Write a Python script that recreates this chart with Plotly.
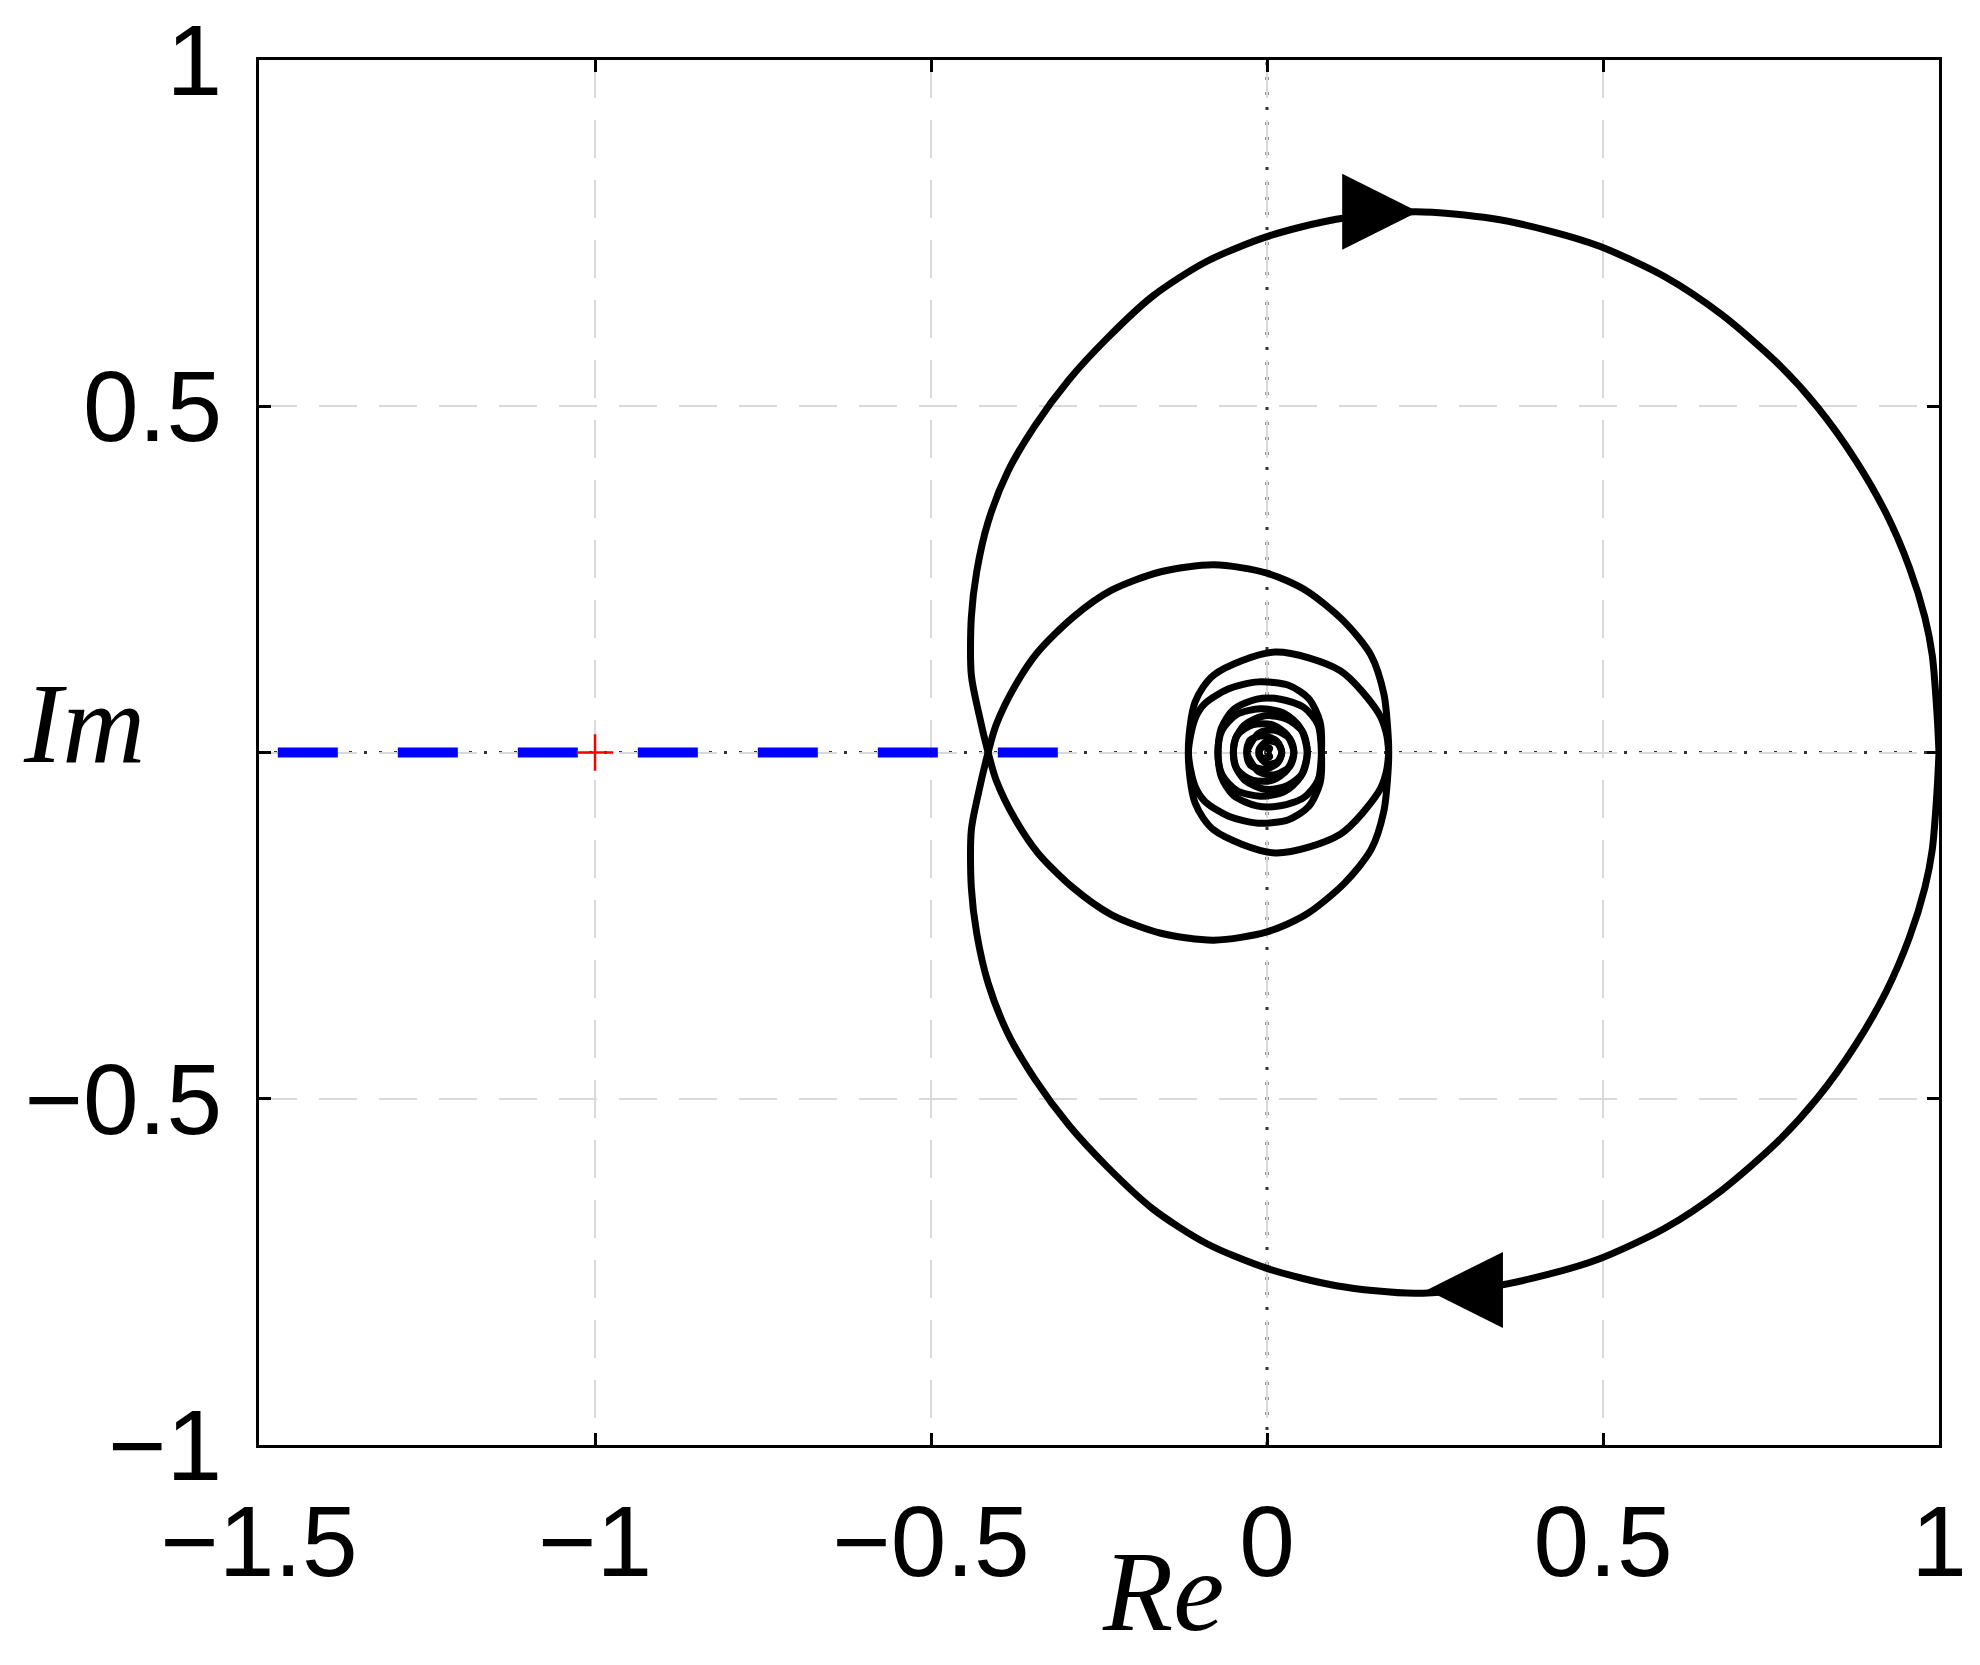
import plotly.graph_objects as go

# Nyquist locus, positive-frequency branch (Re, Im);
# the negative-frequency branch is its mirror image.
outer_re = [1.0, 0.997, 0.99, 0.979, 0.956, 0.922, 0.876, 0.819, 0.762, 0.677, 0.592, 0.495,
            0.421, 0.335, 0.22, 0.103, 0.0, -0.09, -0.17, -0.238, -0.295, -0.346, -0.386,
            -0.415, -0.432, -0.44, -0.44, -0.429, -0.415]
outer_im = [0.0, -0.057, -0.14, -0.195, -0.267, -0.344, -0.422, -0.499, -0.56, -0.632, -0.687, -0.731,
            -0.753, -0.771, -0.781, -0.77, -0.745, -0.709, -0.659, -0.598, -0.538, -0.471, -0.405,
            -0.333, -0.261, -0.195, -0.112, -0.057, 0.0]

middle_re = [-0.403, -0.375, -0.341, -0.289, -0.232, -0.158, -0.079, 0.0, 0.058, 0.115, 0.155,
             0.174, 0.18, 0.181,
             0.177, 0.166, 0.109, 0.012, -0.079, -0.107, -0.117]
middle_im = [0.04, 0.096, 0.145, 0.195, 0.234, 0.261, 0.271, 0.259, 0.234, 0.189, 0.14,
             0.084, 0.029, 0.0,
             -0.03, -0.057, -0.118, -0.145, -0.112, -0.073, 0.0]

inner_re = [-0.107, -0.092, -0.057, -0.013, 0.032, 0.062, 0.079, 0.081,
            0.076, 0.055, 0.02, -0.015, -0.05, -0.068, -0.073,
            -0.067, -0.045, -0.01, 0.025, 0.05, 0.06,
            0.053, 0.03, -0.003, -0.033, -0.047, -0.05,
            -0.044, -0.022, 0.008, 0.03, 0.04,
            0.034, 0.012, -0.012, -0.03,
            -0.025, -0.005, 0.015, 0.022,
            0.015, 0.0, -0.012, -0.008, 0.004, 0.0]
inner_im = [0.049, 0.071, 0.092, 0.102, 0.097, 0.078, 0.044, 0.0,
            -0.04, -0.065, -0.077, -0.077, -0.062, -0.035, 0.0,
            0.032, 0.055, 0.063, 0.057, 0.035, 0.0,
            -0.03, -0.048, -0.053, -0.04, -0.02, 0.0,
            0.025, 0.04, 0.04, 0.025, 0.0,
            -0.02, -0.032, -0.028, 0.0,
            0.018, 0.024, 0.016, 0.0,
            -0.014, -0.016, -0.004, 0.008, 0.006, 0.0]

# direction arrows on the locus (arrow tips)
arrow_re = [0.225, 0.238]
arrow_im = [0.781, -0.776]
arrow_symbols = ["arrow-right", "arrow-left"]

# blue dashed segment on the real axis and the critical point
segment_re = [-1.472, -0.302]
segment_im = [0.0, 0.0]
critical_re = [-1.0]
critical_im = [0.0]

pos_re = outer_re + middle_re + inner_re
pos_im = outer_im + middle_im + inner_im
neg_im = [-v for v in pos_im]

fig = go.Figure()

for ys in (pos_im, neg_im):
    fig.add_trace(go.Scatter(
        x=pos_re, y=ys, mode="lines",
        line=dict(color="black", width=7, shape="spline", smoothing=0.8),
        hoverinfo="skip"))

fig.add_trace(go.Scatter(
    x=segment_re, y=segment_im, mode="lines",
    line=dict(color="#0000ff", width=10, dash="60px,60px")))

fig.add_trace(go.Scatter(
    x=critical_re, y=critical_im, mode="markers",
    marker=dict(symbol="cross-thin", size=26, line=dict(color="red", width=2.5))))

fig.add_trace(go.Scatter(
    x=arrow_re, y=arrow_im, mode="markers",
    marker=dict(symbol=arrow_symbols, size=76, color="black", line=dict(width=0))))

# dotted real/imaginary axes
fig.add_hline(y=0, line=dict(color="#333333", width=3, dash="3px,12px"), layer="below")
fig.add_vline(x=0, line=dict(color="#333333", width=3, dash="3px,12px"), layer="below")

axis_style = dict(
    showline=True, linecolor="black", linewidth=3, mirror="ticks",
    ticks="inside", ticklen=12, tickwidth=2.5, tickcolor="black",
    showgrid=True, gridcolor="#d9d9d9", gridwidth=2, griddash="38px,22px",
    zeroline=False, automargin=False, ticklabeloverflow="allow",
    tickfont=dict(family="Liberation Sans, Arial", size=100, color="black"),
)

fig.update_xaxes(range=[-1.5, 1], tickvals=[-1.5, -1, -0.5, 0, 0.5, 1],
                 ticklabelstandoff=8, **axis_style)
fig.update_yaxes(range=[-1, 1], tickvals=[-1, -0.5, 0, 0.5, 1],
                 ticktext=["\u22121", "\u22120.5", "", "0.5", "1"],
                 ticklabelstandoff=14, **axis_style)

label_font = dict(family="Liberation Serif, Times New Roman", size=115, color="black")
fig.add_annotation(text="<i>Im</i>", xref="paper", yref="paper", x=-0.104, y=0.521,
                   xanchor="center", yanchor="middle", showarrow=False, font=label_font)
fig.add_annotation(text="<i>Re</i>", xref="paper", yref="paper", x=0.538, y=-0.106,
                   xanchor="center", yanchor="middle", showarrow=False, font=label_font)

fig.update_layout(
    width=1980, height=1665, autosize=False,
    margin=dict(l=251, r=49, t=52, b=228),
    paper_bgcolor="white", plot_bgcolor="white",
    showlegend=False,
)

fig.write_html("out.html")
